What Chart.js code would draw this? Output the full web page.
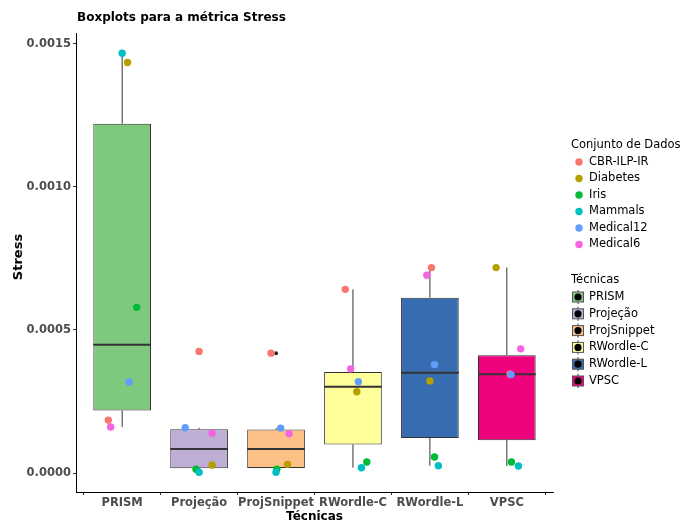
<!DOCTYPE html>
<html>
<head>
<meta charset="utf-8">
<script src="https://cdn.jsdelivr.net/npm/chart.js@4/dist/chart.umd.min.js"></script>
<style>
  body { margin: 0; background: #fff; }
  #wrap { width: 683px; height: 521px; }
</style>
</head>
<body>
<div id="wrap"><canvas id="chart" width="683" height="521"></canvas></div>
<script>
// Técnicas (eixo x) e conjuntos de dados (cores dos pontos)
const tecnicas = ['PRISM', 'Projeção', 'ProjSnippet', 'RWordle-C', 'RWordle-L', 'VPSC'];
const conjuntos = ['CBR-ILP-IR', 'Diabetes', 'Iris', 'Mammals', 'Medical12', 'Medical6'];

// Stress de cada conjunto, um valor por técnica
const cbrIlpIr  = [0.000185, 0.000425, 0.000419, 0.000642, 0.000718, 0.000346];
const diabetes  = [0.001435, 0.0000280, 0.0000303, 0.000284, 0.000322, 0.000718];
const iris      = [0.000579, 0.0000129, 0.0000129, 0.0000385, 0.0000559, 0.0000385];
const mammals   = [0.001467, 0.0000024, 0.0000024, 0.0000185, 0.0000255, 0.0000245];
const medical12 = [0.000318, 0.000158, 0.000157, 0.000319, 0.000379, 0.000344];
const medical6  = [0.000161, 0.000139, 0.000137, 0.000364, 0.000691, 0.000434];
const series = [cbrIlpIr, diabetes, iris, mammals, medical12, medical6];

// deslocamento horizontal (jitter) de cada ponto, em unidades de categoria
const jitter = [
  [-0.18, 0.00, -0.065, -0.10, 0.02, 0.04],
  [0.07, 0.17, 0.15, 0.05, 0.00, -0.14],
  [0.19, -0.04, 0.01, 0.18, 0.06, 0.06],
  [0.00, 0.00, 0.00, 0.11, 0.11, 0.15],
  [0.09, -0.18, 0.06, 0.07, 0.06, 0.055],
  [-0.15, 0.17, 0.17, -0.03, -0.04, 0.18]
];

const yTicks = [0, 0.0005, 0.0010, 0.0015];

const boxColors = ['#7FC97F', '#BEAED4', '#FDC086', '#FFFF99', '#386CB0', '#F0027F'];
const pointColors = ['#F8766D', '#B79F00', '#00BA38', '#00BFC4', '#619CFF', '#F564E3'];

function quantile(sorted, p) {
  const h = (sorted.length - 1) * p;
  const lo = Math.floor(h);
  const hi = Math.min(lo + 1, sorted.length - 1);
  return sorted[lo] + (h - lo) * (sorted[hi] - sorted[lo]);
}

// quartis, bigodes (1.5 * IQR) e outliers por técnica
const boxStats = tecnicas.map((t, i) => {
  const vals = series.map(s => s[i]).sort((a, b) => a - b);
  const q1 = quantile(vals, 0.25);
  const med = quantile(vals, 0.5);
  const q3 = quantile(vals, 0.75);
  const iqr = q3 - q1;
  const inside = vals.filter(v => v >= q1 - 1.5 * iqr && v <= q3 + 1.5 * iqr);
  return {
    q1, med, q3,
    lo: Math.min(...inside),
    hi: Math.max(...inside),
    outliers: vals.filter(v => !inside.includes(v))
  };
});

Chart.defaults.font.family = "'DejaVu Sans', Verdana, sans-serif";

// bigodes, mediana e outliers desenhados logo após as caixas
const boxWhiskers = {
  id: 'boxWhiskers',
  afterDatasetDraw(chart, args) {
    if (args.index !== 0) return;
    const { ctx, scales: { y } } = chart;
    args.meta.data.forEach((bar, i) => {
      const s = boxStats[i];
      const half = bar.width / 2;
      ctx.save();
      ctx.strokeStyle = '#333333';
      ctx.lineWidth = 1;
      ctx.beginPath();
      ctx.moveTo(bar.x, y.getPixelForValue(s.q3));
      ctx.lineTo(bar.x, y.getPixelForValue(s.hi));
      ctx.moveTo(bar.x, y.getPixelForValue(s.q1));
      ctx.lineTo(bar.x, y.getPixelForValue(s.lo));
      ctx.stroke();
      const ym = y.getPixelForValue(s.med);
      ctx.lineWidth = 2;
      ctx.beginPath();
      ctx.moveTo(bar.x - half, ym);
      ctx.lineTo(bar.x + half, ym);
      ctx.stroke();
      ctx.fillStyle = '#222222';
      s.outliers.forEach(v => {
        ctx.beginPath();
        ctx.arc(bar.x, y.getPixelForValue(v), 2, 0, Math.PI * 2);
        ctx.fill();
      });
      ctx.restore();
    });
  }
};

// título, títulos dos eixos e as duas legendas
const annotations = {
  id: 'annotations',
  afterDraw(chart) {
    const { ctx, chartArea } = chart;
    ctx.save();
    ctx.fillStyle = '#000';
    ctx.font = "bold 12px 'DejaVu Sans'";
    ctx.textBaseline = 'middle';
    ctx.textAlign = 'left';
    ctx.fillText('Boxplots para a métrica Stress', chartArea.left + 1, 18);

    ctx.textAlign = 'center';
    ctx.textBaseline = 'top';
    ctx.fillText('Técnicas', (chartArea.left + chartArea.right) / 2, 511);

    ctx.save();
    ctx.translate(19, 257);
    ctx.rotate(-Math.PI / 2);
    ctx.textBaseline = 'middle';
    ctx.font = "bold 13px 'DejaVu Sans'";
    ctx.fillText('Stress', 0, 0);
    ctx.restore();

    ctx.font = "11.5px 'DejaVu Sans'";
    ctx.textAlign = 'left';
    ctx.textBaseline = 'middle';
    ctx.fillText('Conjunto de Dados', 571, 145);
    conjuntos.forEach((name, k) => {
      const yy = 162 + k * 16.5;
      ctx.fillStyle = pointColors[k];
      ctx.beginPath();
      ctx.arc(579, yy, 3.7, 0, Math.PI * 2);
      ctx.fill();
      ctx.fillStyle = '#000';
      ctx.fillText(name, 589, yy);
    });

    ctx.fillText('Técnicas', 571, 280);
    tecnicas.forEach((name, k) => {
      const yy = 297 + k * 16.8;
      ctx.strokeStyle = '#333';
      ctx.lineWidth = 1;
      ctx.beginPath();
      ctx.moveTo(578, yy - 7);
      ctx.lineTo(578, yy + 7);
      ctx.stroke();
      ctx.fillStyle = boxColors[k];
      ctx.fillRect(572.5, yy - 5, 11, 10);
      ctx.strokeStyle = '#555';
      ctx.strokeRect(572.5, yy - 5, 11, 10);
      ctx.fillStyle = '#000';
      ctx.beginPath();
      ctx.arc(578, yy, 3.6, 0, Math.PI * 2);
      ctx.fill();
      ctx.fillText(name, 589, yy);
    });
    ctx.restore();
  }
};

const datasets = [{
  type: 'bar',
  data: boxStats.map((s, i) => ({ x: i + 1, y: [s.q1, s.q3] })),
  backgroundColor: boxColors,
  borderColor: '#333333',
  borderWidth: 1,
  borderSkipped: false,
  barPercentage: 0.75,
  categoryPercentage: 1,
  order: 10
}];

series.forEach((vals, k) => {
  datasets.push({
    type: 'scatter',
    label: conjuntos[k],
    data: vals.map((v, i) => ({ x: i + 1 + jitter[k][i], y: v })),
    backgroundColor: pointColors[k],
    borderWidth: 0,
    pointRadius: 3.7,
    order: 6 - k
  });
});

new Chart(document.getElementById('chart'), {
  type: 'bar',
  data: { datasets },
  plugins: [boxWhiskers, annotations],
  options: {
    responsive: false,
    animation: false,
    events: [],
    layout: { padding: { top: 33, right: 130, left: 0, bottom: 0 } },
    plugins: { legend: { display: false }, tooltip: { enabled: false } },
    scales: {
      x: {
        type: 'linear',
        min: 0.4,
        max: 6.6,
        offset: false,
        afterFit: scale => { scale.height = 29; },
        afterBuildTicks: scale => { scale.ticks = tecnicas.map((t, i) => ({ value: i + 1 })); },
        border: { display: true, color: '#000', width: 1 },
        grid: { display: true, drawOnChartArea: false, drawTicks: true, tickLength: 3, color: '#333' },
        ticks: {
          autoSkip: false,
          maxRotation: 0,
          padding: 1,
          color: '#4D4D4D',
          font: { size: 11.5, weight: 'bold' },
          callback: v => tecnicas[v - 1]
        }
      },
      y: {
        type: 'linear',
        min: -0.0000664,
        max: 0.001538,
        afterFit: scale => { scale.width = 76; },
        afterBuildTicks: scale => { scale.ticks = yTicks.map(v => ({ value: v })); },
        border: { display: true, color: '#000', width: 1 },
        grid: { display: true, drawOnChartArea: false, drawTicks: true, tickLength: 3, color: '#333' },
        ticks: {
          padding: 2,
          color: '#4D4D4D',
          font: { size: 11.5, weight: 'bold' },
          callback: v => v.toFixed(4)
        }
      }
    }
  }
});
</script>
</body>
</html>
